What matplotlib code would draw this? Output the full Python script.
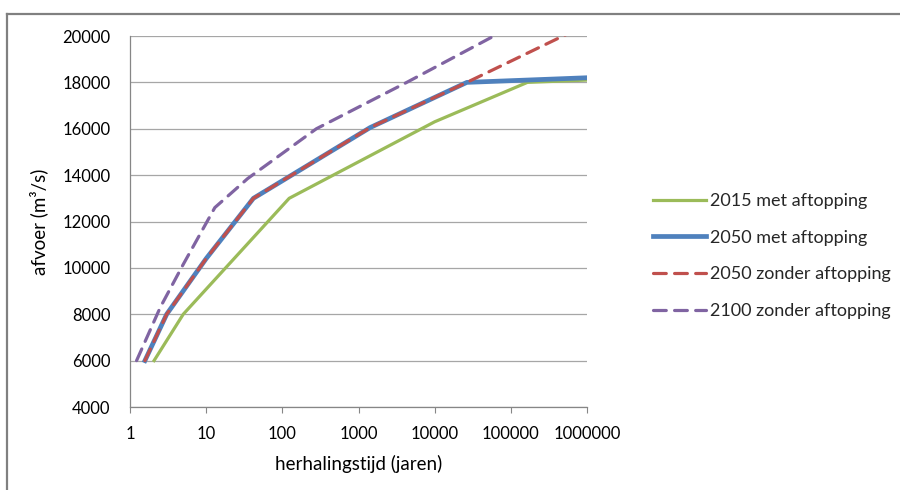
import matplotlib
matplotlib.use("Agg")
import matplotlib.pyplot as plt
from matplotlib.lines import Line2D

# herhalingstijd (jaren) vs afvoer (m3/s)
t_2015_met = [2.07, 5, 123, 10000, 165000, 1000000]
q_2015_met = [6000, 8000, 13000, 16300, 18000, 18100]

t_2050_met = [1.57, 3.03, 10, 41.7, 1420, 26500, 1000000]
q_2050_met = [6000, 8000, 10400, 13000, 16050, 18000, 18200]

t_2050_zonder = [1.57, 3.03, 10, 41.7, 1420, 26500, 1000000]
q_2050_zonder = [6000, 8000, 10400, 13000, 16050, 18000, 20500]

t_2100_zonder = [1.22, 2.5, 5, 13, 35, 280, 4300, 60000]
q_2100_zonder = [6000, 8300, 10150, 12600, 13850, 16000, 18000, 20000]

x_ticks = [1, 10, 100, 1000, 10000, 100000, 1000000]
y_ticks = [4000, 6000, 8000, 10000, 12000, 14000, 16000, 18000, 20000]

plt.rcParams['font.family'] = ['Lato', 'DejaVu Sans']
plt.rcParams['font.size'] = 12
plt.rcParams['text.color'] = '#262626'

fig = plt.figure(figsize=(9, 4.9), dpi=100)
ax = fig.add_axes([130 / 900, 1 - 407 / 490, (587 - 130) / 900, (407 - 36) / 490])

ax.plot(t_2015_met, q_2015_met, color='#9bbb59', lw=2.3, label='2015 met aftopping',
        solid_joinstyle='round', zorder=3)
ax.plot(t_2050_met, q_2050_met, color='#4f81bd', lw=3.4, label='2050 met aftopping',
        solid_joinstyle='round', zorder=3)
ax.plot(t_2050_zonder, q_2050_zonder, color='#c0504d', lw=2.3, ls=(0, (4, 2.6)),
        dash_capstyle='round', label='2050 zonder aftopping', zorder=4)
ax.plot(t_2100_zonder, q_2100_zonder, color='#8064a2', lw=2.3, ls=(0, (4, 2.6)),
        dash_capstyle='round', label='2100 zonder aftopping', zorder=4)

ax.set_xscale('log')
ax.set_xlim(1, 1000000)
ax.set_ylim(4000, 20000)
ax.set_xticks(x_ticks)
ax.set_xticklabels([str(v) for v in x_ticks])
ax.minorticks_off()
ax.set_yticks(y_ticks)
ax.set_yticklabels([str(v) for v in y_ticks])

ax.grid(axis='y', color='#a6a6a6', lw=0.9)
ax.set_axisbelow(True)
for side in ['top', 'right']:
    ax.spines[side].set_visible(False)
for side in ['left', 'bottom']:
    ax.spines[side].set_color('#868686')
    ax.spines[side].set_linewidth(0.9)
ax.tick_params(axis='x', length=4.3, color='#868686', pad=9.5)
ax.tick_params(axis='y', length=0, pad=14)

ax.set_xlabel('herhalingstijd (jaren)', fontsize=13.5, labelpad=9)
ax.set_ylabel('afvoer (m³/s)', fontsize=13.5, labelpad=10)

fig.legend(loc='center left', bbox_to_anchor=(653 / 900, 1 - 256 / 490),
           frameon=False, fontsize=13, handlelength=2.95, handletextpad=0.2,
           labelspacing=1.15, borderpad=0, borderaxespad=0)

# outer chart border (top and left edges visible)
fig.add_artist(Line2D([7 / 900, 7 / 900], [-0.1, 1 - 14 / 490], transform=fig.transFigure,
                      color='#808080', lw=1.6))
fig.add_artist(Line2D([7 / 900, 1.1], [1 - 14 / 490, 1 - 14 / 490], transform=fig.transFigure,
                      color='#808080', lw=1.6))

fig.savefig('out.png', dpi=100)
